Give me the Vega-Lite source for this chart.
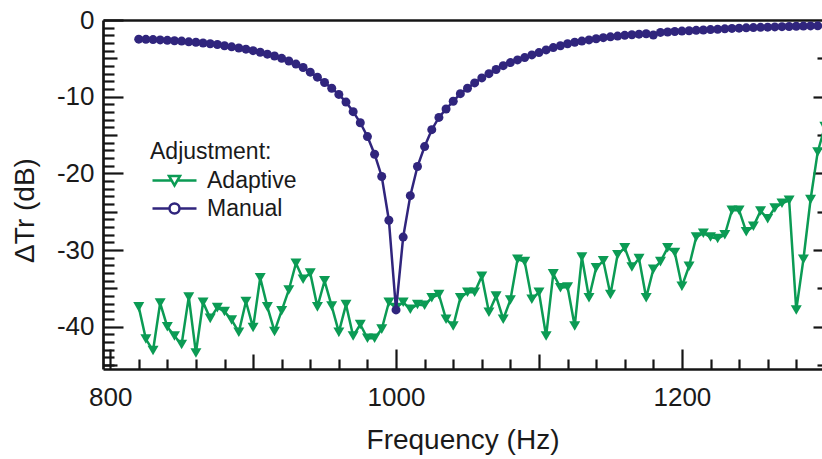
{
  "$schema": "https://vega.github.io/schema/vega-lite/v6.json",
  "width": 719,
  "height": 349,
  "autosize": "none",
  "padding": {"left": 103, "top": 20, "right": 0, "bottom": 90},
  "background": "white",
  "config": {
    "view": {"stroke": null},
    "font": "Liberation Sans",
    "axis": {
      "grid": false,
      "labelFont": "Liberation Sans",
      "titleFont": "Liberation Sans",
      "labelColor": "#1a1a1a",
      "titleColor": "#1a1a1a",
      "titleFontWeight": "normal",
      "domainColor": "#151515",
      "tickColor": "#151515",
      "tickWidth": 2.2,
      "domainWidth": 2.7
    }
  },
  "data": {
    "values": [
      {"f": 820, "v": -37.4, "s": "Adaptive"}, {"f": 825, "v": -41.6, "s": "Adaptive"}, {"f": 830, "v": -43.1, "s": "Adaptive"}, {"f": 835, "v": -36.9, "s": "Adaptive"},
      {"f": 840, "v": -40.0, "s": "Adaptive"}, {"f": 845, "v": -41.2, "s": "Adaptive"}, {"f": 850, "v": -42.3, "s": "Adaptive"}, {"f": 855, "v": -36.1, "s": "Adaptive"},
      {"f": 860, "v": -43.4, "s": "Adaptive"}, {"f": 865, "v": -36.8, "s": "Adaptive"}, {"f": 870, "v": -38.9, "s": "Adaptive"}, {"f": 875, "v": -37.5, "s": "Adaptive"},
      {"f": 880, "v": -38.0, "s": "Adaptive"}, {"f": 885, "v": -39.1, "s": "Adaptive"}, {"f": 890, "v": -40.7, "s": "Adaptive"}, {"f": 895, "v": -36.7, "s": "Adaptive"},
      {"f": 900, "v": -40.1, "s": "Adaptive"}, {"f": 905, "v": -33.6, "s": "Adaptive"}, {"f": 910, "v": -37.4, "s": "Adaptive"}, {"f": 915, "v": -40.6, "s": "Adaptive"},
      {"f": 920, "v": -37.9, "s": "Adaptive"}, {"f": 925, "v": -35.2, "s": "Adaptive"}, {"f": 930, "v": -31.7, "s": "Adaptive"}, {"f": 935, "v": -33.8, "s": "Adaptive"},
      {"f": 940, "v": -33.0, "s": "Adaptive"}, {"f": 945, "v": -37.4, "s": "Adaptive"}, {"f": 950, "v": -34.0, "s": "Adaptive"}, {"f": 955, "v": -37.3, "s": "Adaptive"},
      {"f": 960, "v": -40.7, "s": "Adaptive"}, {"f": 965, "v": -37.1, "s": "Adaptive"}, {"f": 970, "v": -41.2, "s": "Adaptive"}, {"f": 975, "v": -39.7, "s": "Adaptive"},
      {"f": 980, "v": -41.5, "s": "Adaptive"}, {"f": 985, "v": -41.5, "s": "Adaptive"}, {"f": 990, "v": -40.3, "s": "Adaptive"}, {"f": 995, "v": -36.8, "s": "Adaptive"},
      {"f": 1000, "v": -37.5, "s": "Adaptive"}, {"f": 1005, "v": -36.8, "s": "Adaptive"}, {"f": 1010, "v": -37.7, "s": "Adaptive"}, {"f": 1015, "v": -37.1, "s": "Adaptive"},
      {"f": 1020, "v": -37.2, "s": "Adaptive"}, {"f": 1025, "v": -36.2, "s": "Adaptive"}, {"f": 1030, "v": -35.8, "s": "Adaptive"}, {"f": 1035, "v": -39.0, "s": "Adaptive"},
      {"f": 1040, "v": -39.9, "s": "Adaptive"}, {"f": 1045, "v": -36.2, "s": "Adaptive"}, {"f": 1050, "v": -35.5, "s": "Adaptive"}, {"f": 1055, "v": -35.5, "s": "Adaptive"},
      {"f": 1060, "v": -33.4, "s": "Adaptive"}, {"f": 1065, "v": -38.1, "s": "Adaptive"}, {"f": 1070, "v": -36.0, "s": "Adaptive"}, {"f": 1075, "v": -39.0, "s": "Adaptive"},
      {"f": 1080, "v": -36.5, "s": "Adaptive"}, {"f": 1085, "v": -31.2, "s": "Adaptive"}, {"f": 1090, "v": -31.5, "s": "Adaptive"}, {"f": 1095, "v": -36.4, "s": "Adaptive"},
      {"f": 1100, "v": -35.5, "s": "Adaptive"}, {"f": 1105, "v": -41.2, "s": "Adaptive"}, {"f": 1110, "v": -33.1, "s": "Adaptive"}, {"f": 1115, "v": -34.9, "s": "Adaptive"},
      {"f": 1120, "v": -34.8, "s": "Adaptive"}, {"f": 1125, "v": -39.9, "s": "Adaptive"}, {"f": 1130, "v": -30.9, "s": "Adaptive"}, {"f": 1135, "v": -36.2, "s": "Adaptive"},
      {"f": 1140, "v": -32.3, "s": "Adaptive"}, {"f": 1145, "v": -31.4, "s": "Adaptive"}, {"f": 1150, "v": -35.8, "s": "Adaptive"}, {"f": 1155, "v": -30.6, "s": "Adaptive"},
      {"f": 1160, "v": -29.7, "s": "Adaptive"}, {"f": 1165, "v": -32.2, "s": "Adaptive"}, {"f": 1170, "v": -31.1, "s": "Adaptive"}, {"f": 1175, "v": -36.2, "s": "Adaptive"},
      {"f": 1180, "v": -32.5, "s": "Adaptive"}, {"f": 1185, "v": -31.5, "s": "Adaptive"}, {"f": 1190, "v": -29.7, "s": "Adaptive"}, {"f": 1195, "v": -30.3, "s": "Adaptive"},
      {"f": 1200, "v": -34.7, "s": "Adaptive"}, {"f": 1205, "v": -32.1, "s": "Adaptive"}, {"f": 1210, "v": -28.3, "s": "Adaptive"}, {"f": 1215, "v": -27.8, "s": "Adaptive"},
      {"f": 1220, "v": -28.3, "s": "Adaptive"}, {"f": 1225, "v": -28.5, "s": "Adaptive"}, {"f": 1230, "v": -28.0, "s": "Adaptive"}, {"f": 1235, "v": -24.8, "s": "Adaptive"},
      {"f": 1240, "v": -24.8, "s": "Adaptive"}, {"f": 1245, "v": -27.6, "s": "Adaptive"}, {"f": 1250, "v": -26.9, "s": "Adaptive"}, {"f": 1255, "v": -24.9, "s": "Adaptive"},
      {"f": 1260, "v": -25.9, "s": "Adaptive"}, {"f": 1265, "v": -24.5, "s": "Adaptive"}, {"f": 1270, "v": -23.9, "s": "Adaptive"}, {"f": 1275, "v": -23.5, "s": "Adaptive"},
      {"f": 1280, "v": -37.8, "s": "Adaptive"}, {"f": 1285, "v": -31.2, "s": "Adaptive"}, {"f": 1290, "v": -23.4, "s": "Adaptive"}, {"f": 1295, "v": -17.2, "s": "Adaptive"},
      {"f": 1300, "v": -13.9, "s": "Adaptive"},
      {"f": 820, "v": -2.50, "s": "Manual"}, {"f": 825, "v": -2.52, "s": "Manual"}, {"f": 830, "v": -2.55, "s": "Manual"}, {"f": 835, "v": -2.60, "s": "Manual"},
      {"f": 840, "v": -2.65, "s": "Manual"}, {"f": 845, "v": -2.70, "s": "Manual"}, {"f": 850, "v": -2.75, "s": "Manual"}, {"f": 855, "v": -2.85, "s": "Manual"},
      {"f": 860, "v": -2.90, "s": "Manual"}, {"f": 865, "v": -3.00, "s": "Manual"}, {"f": 870, "v": -3.10, "s": "Manual"}, {"f": 875, "v": -3.20, "s": "Manual"},
      {"f": 880, "v": -3.35, "s": "Manual"}, {"f": 885, "v": -3.50, "s": "Manual"}, {"f": 890, "v": -3.65, "s": "Manual"}, {"f": 895, "v": -3.80, "s": "Manual"},
      {"f": 900, "v": -4.00, "s": "Manual"}, {"f": 905, "v": -4.20, "s": "Manual"}, {"f": 910, "v": -4.45, "s": "Manual"}, {"f": 915, "v": -4.70, "s": "Manual"},
      {"f": 920, "v": -5.00, "s": "Manual"}, {"f": 925, "v": -5.35, "s": "Manual"}, {"f": 930, "v": -5.75, "s": "Manual"}, {"f": 935, "v": -6.20, "s": "Manual"},
      {"f": 940, "v": -6.80, "s": "Manual"}, {"f": 945, "v": -7.45, "s": "Manual"}, {"f": 950, "v": -8.15, "s": "Manual"}, {"f": 955, "v": -8.90, "s": "Manual"},
      {"f": 960, "v": -9.70, "s": "Manual"}, {"f": 965, "v": -10.70, "s": "Manual"}, {"f": 970, "v": -11.95, "s": "Manual"}, {"f": 975, "v": -13.40, "s": "Manual"},
      {"f": 980, "v": -15.20, "s": "Manual"}, {"f": 985, "v": -17.50, "s": "Manual"}, {"f": 990, "v": -20.40, "s": "Manual"}, {"f": 995, "v": -26.10, "s": "Manual"},
      {"f": 1000, "v": -37.80, "s": "Manual"}, {"f": 1005, "v": -28.30, "s": "Manual"}, {"f": 1010, "v": -22.90, "s": "Manual"}, {"f": 1015, "v": -19.10, "s": "Manual"},
      {"f": 1020, "v": -16.50, "s": "Manual"}, {"f": 1025, "v": -14.30, "s": "Manual"}, {"f": 1030, "v": -12.70, "s": "Manual"}, {"f": 1035, "v": -11.60, "s": "Manual"},
      {"f": 1040, "v": -10.60, "s": "Manual"}, {"f": 1045, "v": -9.60, "s": "Manual"}, {"f": 1050, "v": -8.90, "s": "Manual"}, {"f": 1055, "v": -8.20, "s": "Manual"},
      {"f": 1060, "v": -7.55, "s": "Manual"}, {"f": 1065, "v": -7.00, "s": "Manual"}, {"f": 1070, "v": -6.45, "s": "Manual"}, {"f": 1075, "v": -5.95, "s": "Manual"},
      {"f": 1080, "v": -5.55, "s": "Manual"}, {"f": 1085, "v": -5.20, "s": "Manual"}, {"f": 1090, "v": -4.90, "s": "Manual"}, {"f": 1095, "v": -4.55, "s": "Manual"},
      {"f": 1100, "v": -4.25, "s": "Manual"}, {"f": 1105, "v": -3.90, "s": "Manual"}, {"f": 1110, "v": -3.60, "s": "Manual"}, {"f": 1115, "v": -3.35, "s": "Manual"},
      {"f": 1120, "v": -3.10, "s": "Manual"}, {"f": 1125, "v": -2.90, "s": "Manual"}, {"f": 1130, "v": -2.75, "s": "Manual"}, {"f": 1135, "v": -2.60, "s": "Manual"},
      {"f": 1140, "v": -2.45, "s": "Manual"}, {"f": 1145, "v": -2.30, "s": "Manual"}, {"f": 1150, "v": -2.20, "s": "Manual"}, {"f": 1155, "v": -2.10, "s": "Manual"},
      {"f": 1160, "v": -2.00, "s": "Manual"}, {"f": 1165, "v": -1.92, "s": "Manual"}, {"f": 1170, "v": -1.85, "s": "Manual"}, {"f": 1175, "v": -1.80, "s": "Manual"},
      {"f": 1180, "v": -1.95, "s": "Manual"}, {"f": 1185, "v": -1.62, "s": "Manual"}, {"f": 1190, "v": -1.56, "s": "Manual"}, {"f": 1195, "v": -1.50, "s": "Manual"},
      {"f": 1200, "v": -1.45, "s": "Manual"}, {"f": 1205, "v": -1.40, "s": "Manual"}, {"f": 1210, "v": -1.35, "s": "Manual"}, {"f": 1215, "v": -1.30, "s": "Manual"},
      {"f": 1220, "v": -1.25, "s": "Manual"}, {"f": 1225, "v": -1.20, "s": "Manual"}, {"f": 1230, "v": -1.15, "s": "Manual"}, {"f": 1235, "v": -1.10, "s": "Manual"},
      {"f": 1240, "v": -1.06, "s": "Manual"}, {"f": 1245, "v": -1.02, "s": "Manual"}, {"f": 1250, "v": -0.99, "s": "Manual"}, {"f": 1255, "v": -0.96, "s": "Manual"},
      {"f": 1260, "v": -0.93, "s": "Manual"}, {"f": 1265, "v": -0.90, "s": "Manual"}, {"f": 1270, "v": -0.87, "s": "Manual"}, {"f": 1275, "v": -0.84, "s": "Manual"},
      {"f": 1280, "v": -0.81, "s": "Manual"}, {"f": 1285, "v": -0.79, "s": "Manual"}, {"f": 1290, "v": -0.77, "s": "Manual"}, {"f": 1295, "v": -0.76, "s": "Manual"}
    ]
  },
  "resolve": {"axis": {"x": "independent", "y": "independent"}},
  "layer": [
    {
      "transform": [{"filter": "datum.s === 'Adaptive'"}],
      "mark": {"type": "line", "color": "#0b9b54", "strokeWidth": 2.5},
      "encoding": {
        "x": {"field": "f", "type": "quantitative", "scale": {"domain": [795, 1298], "nice": false, "zero": false},
          "axis": {"orient": "bottom", "values": [800, 1000, 1200], "ticks": false, "domain": true, "labelExpr": "datum.value + ''", "labelFontSize": 26, "labelPadding": 15, "labelFlush": false, "labelOverlap": false, "title": "Frequency (Hz)", "titleFontSize": 28, "titlePadding": 16}},
        "y": {"field": "v", "type": "quantitative", "scale": {"domain": [-45.5, 0], "nice": false, "zero": false},
          "axis": {"orient": "left", "values": [0, -10, -20, -30, -40], "ticks": false, "domain": true, "labelExpr": "datum.value + ''", "labelFontSize": 26, "labelPadding": 9, "labelFlush": false, "labelOverlap": false, "title": "ΔTr (dB)", "titleFontSize": 28, "titlePadding": 17, "titleY": 190}}
      }
    },
    {
      "transform": [{"filter": "datum.s === 'Adaptive'"}],
      "mark": {"type": "point", "shape": "triangle-down", "filled": true, "size": 121, "strokeWidth": 1, "opacity": 1, "color": "#0b9b54"},
      "encoding": {
        "x": {"field": "f", "type": "quantitative",
          "axis": {"orient": "bottom", "values": [820, 840, 860, 880, 920, 940, 960, 980, 1020, 1040, 1060, 1080, 1120, 1140, 1160, 1180, 1220, 1240, 1260, 1280], "ticks": true, "tickSize": -10, "labels": false, "domain": false, "title": null}},
        "y": {"field": "v", "type": "quantitative",
          "axis": {"orient": "left", "values": [-45, -44, -43, -42, -41, -39, -38, -37, -36, -34, -33, -32, -31, -29, -28, -27, -26, -24, -23, -22, -21, -19, -18, -17, -16, -14, -13, -12, -11, -9, -8, -7, -6, -4, -3, -2, -1], "ticks": true, "tickSize": -11, "labels": false, "domain": false, "title": null}}
      }
    },
    {
      "transform": [{"filter": "datum.s === 'Manual'"}],
      "mark": {"type": "line", "color": "#30257d", "strokeWidth": 2.5},
      "encoding": {
        "x": {"field": "f", "type": "quantitative",
          "axis": {"orient": "bottom", "values": [900, 1100], "ticks": true, "tickSize": -15, "labels": false, "domain": false, "title": null}},
        "y": {"field": "v", "type": "quantitative",
          "axis": {"orient": "left", "values": [-5, -15, -25, -35, -45], "ticks": true, "tickSize": -14, "labels": false, "domain": false, "title": null}}
      }
    },
    {
      "transform": [{"filter": "datum.s === 'Manual'"}],
      "mark": {"type": "point", "shape": "circle", "filled": true, "size": 81, "strokeWidth": 1.3, "opacity": 1, "color": "#30257d"},
      "encoding": {
        "x": {"field": "f", "type": "quantitative",
          "axis": {"orient": "bottom", "values": [800, 1000, 1200], "ticks": true, "tickSize": -20, "labels": false, "domain": false, "title": null}},
        "y": {"field": "v", "type": "quantitative",
          "axis": {"orient": "left", "values": [0, -10, -20, -30, -40], "ticks": true, "tickSize": -20, "labels": false, "domain": false, "title": null}}
      }
    },
    {
      "transform": [{"filter": "datum.f === 820"}],
      "mark": {"type": "point", "filled": false, "opacity": 0, "strokeWidth": 2.5, "size": 400},
      "encoding": {
        "x": {"field": "f", "type": "quantitative",
          "axis": {"orient": "top", "ticks": false, "labels": false, "domain": true, "title": null}},
        "y": {"field": "v", "type": "quantitative",
          "axis": {"orient": "right", "values": [-10, -20, -30, -40], "ticks": true, "tickSize": -9, "labels": false, "domain": false, "title": null}},
        "color": {"field": "s", "type": "nominal", "scale": {"domain": ["Adaptive", "Manual"], "range": ["#0b9b54", "#30257d"]},
          "legend": {
            "title": "Adjustment:", "orient": "none", "legendX": 47, "legendY": 121, "padding": 0,
            "titleFont": "Liberation Sans", "titleFontSize": 23, "titleFontWeight": "normal", "titleColor": "#1a1a1a", "titlePadding": 5, "titleAnchor": "start",
            "labelFont": "Liberation Sans", "labelFontSize": 23, "labelColor": "#1a1a1a", "labelOffset": 21,
            "symbolSize": 400, "symbolStrokeWidth": 2.5, "symbolOffset": 13, "rowPadding": 4, "symbolOpacity": 1, "symbolFillColor": "white"
          }},
        "shape": {"field": "s", "type": "nominal",
          "scale": {"domain": ["Adaptive", "Manual"], "range": ["M-2.2,0H-0.29M0.29,0H2.2M-0.55,-0.45H0.55L0,0.5Z", "M-2.2,0H-0.5M0.5,0H2.2M0.5,0A0.5,0.5,0,1,1,-0.5,0A0.5,0.5,0,1,1,0.5,0Z"]},
          "legend": {
            "title": "Adjustment:", "orient": "none", "legendX": 47, "legendY": 121, "padding": 0,
            "titleFont": "Liberation Sans", "titleFontSize": 23, "titleFontWeight": "normal", "titleColor": "#1a1a1a", "titlePadding": 5, "titleAnchor": "start",
            "labelFont": "Liberation Sans", "labelFontSize": 23, "labelColor": "#1a1a1a", "labelOffset": 21,
            "symbolSize": 400, "symbolStrokeWidth": 2.5, "symbolOffset": 13, "rowPadding": 4, "symbolOpacity": 1, "symbolFillColor": "white"
          }}
      }
    },
    {
      "transform": [{"filter": "datum.s === 'Manual'"}],
      "mark": {"type": "point", "opacity": 0},
      "encoding": {
        "x": {"field": "f", "type": "quantitative", "axis": null},
        "y": {"field": "v", "type": "quantitative",
          "axis": {"orient": "right", "values": [-5, -15, -25, -35, -45], "ticks": true, "tickSize": -5, "labels": false, "domain": false, "title": null}}
      }
    }
  ]
}
